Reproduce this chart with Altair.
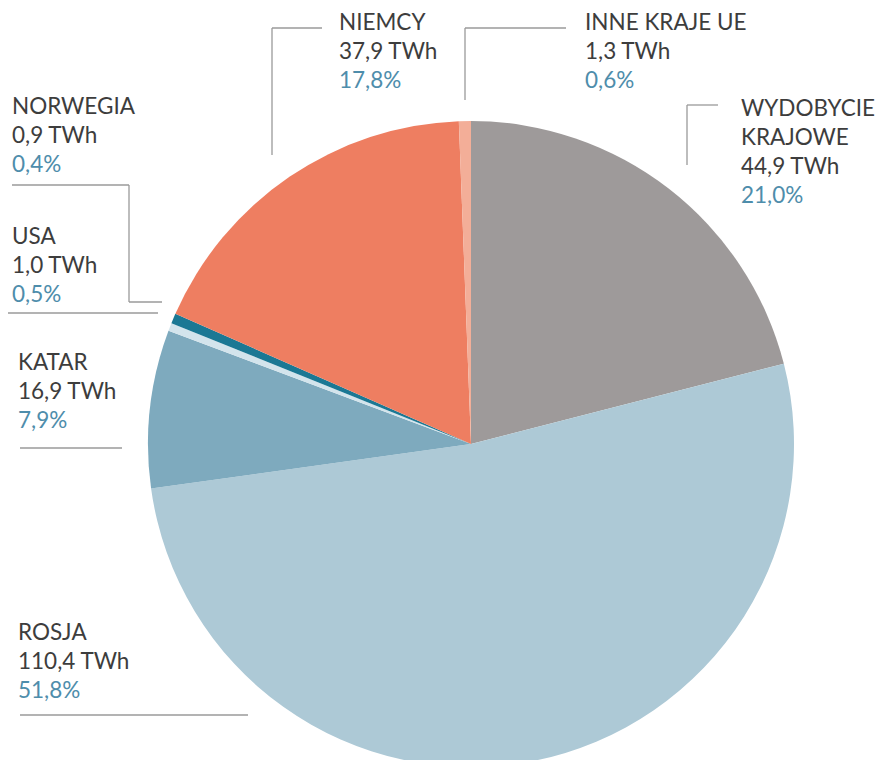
import altair as alt
import pandas as pd

# ---- data ----
names = ["WYDOBYCIE\nKRAJOWE", "ROSJA", "KATAR", "NORWEGIA", "USA", "NIEMCY", "INNE KRAJE UE"]
twh = ["44,9 TWh", "110,4 TWh", "16,9 TWh", "0,9 TWh", "1,0 TWh", "37,9 TWh", "1,3 TWh"]
shares = [21.0, 51.8, 7.9, 0.4, 0.5, 17.8, 0.6]
share_labels = ["21,0%", "51,8%", "7,9%", "0,4%", "0,5%", "17,8%", "0,6%"]
colors = ["#9e9a9a", "#adc9d6", "#7eaabe", "#d3e4ec", "#1b7894", "#ee7e61", "#f3ae98"]

# ---- layout (pixels inside the plot area) ----
W, H = 869, 752
OFF = 8
CX, CY, R = 471 - OFF, 444 - OFF, 323
FONT = "Lato"
FS = 22.5
LINE_H = 29
# label anchor: (left x, centre y of first line) in page pixels
label_pos = {
    "WYDOBYCIE\nKRAJOWE": (741, 109),
    "ROSJA": (18, 633),
    "KATAR": (18, 363),
    "NORWEGIA": (12, 107),
    "USA": (12, 237),
    "NIEMCY": (339, 23),
    "INNE KRAJE UE": (585, 23),
}
leaders = [
    (272, 28, 322, 28), (272, 28, 272, 155),
    (465, 28, 566, 28), (465, 28, 465, 100),
    (687, 105, 718, 105), (687, 105, 687, 165),
    (12, 185, 129, 185), (129, 185, 129, 302), (129, 302, 162, 302),
    (0, 313, 158, 313),
    (20, 448, 122, 448),
    (20, 715, 248, 715),
]

pie_df = pd.DataFrame({
    "name": names, "share": shares, "idx": list(range(len(names))),
})

rows = []
for n, t, s in zip(names, twh, share_labels):
    x0, y0 = label_pos[n]
    lines = n.split("\n") + [t]
    for i, ln in enumerate(lines):
        rows.append({"x": x0 - OFF, "y": y0 - OFF + i * LINE_H, "text": ln, "kind": "dark"})
    rows.append({"x": x0 - OFF, "y": y0 - OFF + len(lines) * LINE_H, "text": s, "kind": "pct"})
text_df = pd.DataFrame(rows)

lead_df = pd.DataFrame([
    {"x": a - OFF, "y": b - OFF, "x2": c - OFF, "y2": d - OFF} for a, b, c, d in leaders
])

xs = alt.Scale(domain=[0, W], range=[0, W], nice=False, zero=False)
ys = alt.Scale(domain=[0, H], range=[0, H], nice=False, zero=False)

pie = alt.Chart(pie_df).mark_arc(outerRadius=R).encode(
    theta=alt.Theta("share:Q", stack=True),
    order=alt.Order("idx:Q"),
    color=alt.Color("name:N", scale=alt.Scale(domain=names, range=colors), legend=None),
    x=alt.value(CX),
    y=alt.value(CY),
)

lead = alt.Chart(lead_df).mark_rule(color="#9a9a9a", strokeWidth=1.3).encode(
    x=alt.X("x:Q", scale=xs, axis=None),
    y=alt.Y("y:Q", scale=ys, axis=None),
    x2="x2:Q",
    y2="y2:Q",
)

txt = alt.Chart(text_df).mark_text(
    align="left", baseline="middle", font=FONT, fontSize=FS
).encode(
    x=alt.X("x:Q", scale=xs, axis=None),
    y=alt.Y("y:Q", scale=ys, axis=None),
    text="text:N",
    color=alt.Color("kind:N", scale=alt.Scale(domain=["dark", "pct"], range=["#3d3d3d", "#4e8dab"]), legend=None),
)

chart = alt.layer(pie, lead, txt).resolve_scale(color="independent").properties(
    width=W, height=H, padding=0, autosize=alt.AutoSizeParams(type="none")
).configure_view(stroke=None)

chart.save("out.html", embed_options={"renderer": "svg", "actions": False})
